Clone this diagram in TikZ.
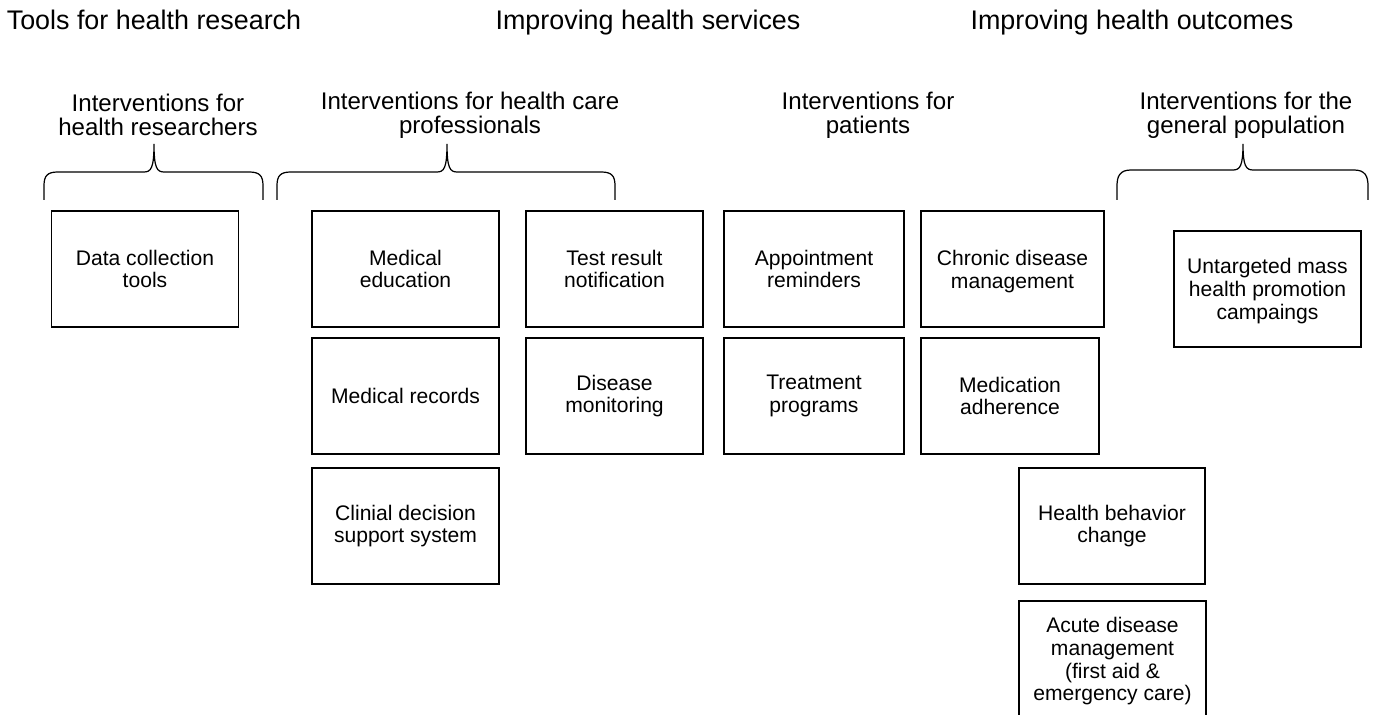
\documentclass[tikz,border=0pt]{standalone}
\usepackage{fontspec}
\setmainfont{Liberation Sans}
\usetikzlibrary{positioning}

% curly brace over a group of boxes: left end, tip, right end, bar height
\newcommand{\groupbrace}[4]{%
  \draw[bracepath] (#1,200) -- (#1,186)
    .. controls (#1,176) and (#1+3,#4) .. (#1+14,#4)
    -- (#2-10,#4) .. controls (#2-3,#4) and (#2,#4-4) .. (#2,144)
    .. controls (#2,#4-4) and (#2+3,#4) .. (#2+10,#4)
    -- (#3-14,#4) .. controls (#3-3,#4) and (#3,176) .. (#3,186) -- (#3,200);}

\begin{document}
\begin{tikzpicture}[
  x=0.02cm, y=-0.02cm,
  box/.style={draw, line width=0.8pt, minimum width=3.74cm, minimum height=2.32cm,
    inner sep=0pt, align=center, font=\fontsize{12}{13}\selectfont},
  header/.style={anchor=base, font=\fontsize{15.3}{17}\selectfont},
  groupname/.style={align=center, font=\fontsize{13.7}{13.8}\selectfont},
  bracepath/.style={line width=0.7pt}
]
\useasboundingbox (0,0) rectangle (1377,715);
\clip (0,0) rectangle (1377,715);

% top headings
\node[header] (tools) at (154,30) {Tools for health research};
\node[header] (services) at (648,30) {Improving health services};
\node[header] (outcomes) at (1132,30) {Improving health outcomes};

% target groups
\node[groupname] (researchers) at (158,115) {Interventions for\\health researchers};
\node[groupname] (professionals) at (470,115) {Interventions for health care\\professionals};
\node[groupname] (patients) at (868,115) {Interventions for\\patients};
\node[groupname] (population) at (1246,115) {Interventions for the\\general population};

% braces
\groupbrace{44}{154}{263}{172}
\groupbrace{277}{447}{615}{172}
\groupbrace{1117}{1243}{1368}{170}

% health researchers
\node[box] (datatools) at (145,269) {Data collection\\tools};

% health care professionals
\node[box] (education) at (405.5,269) {Medical\\education};
\node[box] (records) at (405.5,396) {Medical records};
\node[box] (decision) at (405.5,526) {Clinial decision\\support system};
\node[box, minimum width=3.54cm] (testresult) at (614.5,269) {Test result\\notification};
\node[box, minimum width=3.54cm] (monitoring) at (614.5,396) {Disease\\monitoring};

% patients
\node[box, minimum width=3.6cm] (reminders) at (814,269) {Appointment\\reminders};
\node[box, minimum width=3.6cm] (treatment) at (814,396) {Treatment\\programs};
\node[box, minimum width=3.66cm, text depth=0pt] (chronic) at (1012.5,269) {Chronic disease\\management};
\node[box, minimum width=3.56cm] (adherence) at (1010,396) {Medication\\adherence};
\node[box, minimum width=3.72cm] (behavior) at (1112,526) {Health behavior\\change};
\node[box, minimum width=3.74cm, text depth=-0.5pt] (acute) at (1112.5,659) {Acute disease\\management\\(first aid \&\\emergency care)};

% general population
\node[box, text depth=0pt] (campaigns) at (1267.5,289) {Untargeted mass\\health promotion\\campaings};
\end{tikzpicture}
\end{document}
